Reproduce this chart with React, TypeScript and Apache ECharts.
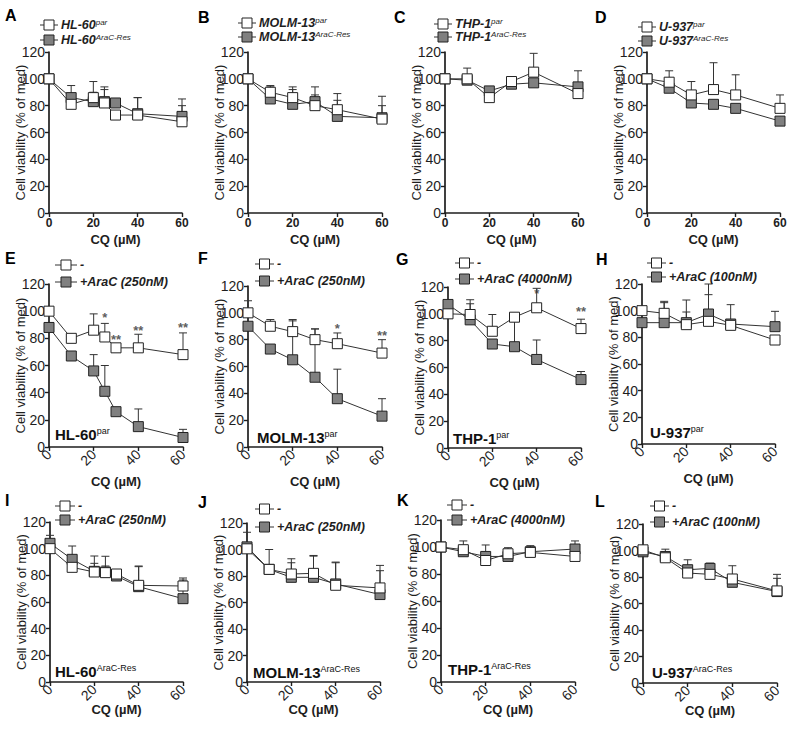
import React, { useEffect, useRef } from 'react';
import * as echarts from 'echarts';

const FONT = '"Liberation Sans", Arial, Helvetica, sans-serif';
const INK = '#1e1e1e';

// ---------- x values (CQ, µM) ----------
const cq7 = [0, 10, 20, 25, 30, 40, 60];
const cq6 = [0, 10, 20, 30, 40, 60];

// ---------- Row 1: parental vs AraC-resistant ----------
const aOpen = [100, 81, 86, 82, 73, 73, 68];
const aOpenSd = [0, 0, 12, 12, 0, 13, 17];
const aGray = [100, 86, 83, 83, 82, 74, 72];
const aGraySd = [0, 9, 7, 9, 0, 12, 8];

const bOpen = [100, 90, 86, 80, 77, 70];
const bOpenSd = [0, 5, 8, 14, 12, 17];
const bGray = [100, 85, 81, 83, 72, 71];
const bGraySd = [0, 9, 11, 5, 12, 9];

const cOpen = [100, 100, 86, 98, 105, 89];
const cOpenSd = [0, 8, 0, 0, 14, 0];
const cGray = [100, 99, 91, 96, 97, 94];
const cGraySd = [0, 0, 2, 0, 0, 12];

const dOpen = [100, 97.5, 88, 92, 88, 78];
const dOpenSd = [0, 8.5, 10, 20, 15, 10];
const dGray = [100, 93, 82, 81, 78, 68.5];
const dGraySd = [0, 0, 0, 0, 0, 0];

// ---------- Row 2: parental cells, CQ ± AraC ----------
const eOpen = [100, 80, 86, 81, 73, 73, 68];
const eOpenSd = [0, 0, 12, 10, 0, 10, 16];
const eGray = [88, 67, 56, 41, 26, 15, 7];
const eGraySd = [0, 0, 12, 19, 0, 13, 6];
const eStars = [[25, 95, '*'], [30, 79, '**'], [40, 86, '**'], [60, 88, '**']];

const fOpen = [100, 90, 86, 80, 77, 70];
const fOpenSd = [9, 5, 9, 8, 8, 10];
const fGray = [90, 73, 65, 52, 36, 23];
const fGraySd = [0, 0, 29, 36, 22, 13];
const fStars = [[40, 88, '*'], [60, 83, '**']];

const gOpen = [100, 99.5, 87, 97.5, 104.5, 89];
const gOpenSd = [0, 11, 12.5, 0, 14.5, 7];
const gGray = [107, 95.5, 77.5, 75.5, 66, 51];
const gGraySd = [0, 12, 0, 22, 14.5, 6];
const gStars = [[40, 115.5, '*'], [60, 102, '**']];

const hOpen = [100, 98, 89.5, 92, 89, 78];
const hOpenSd = [0, 9, 18.5, 20, 15.5, 0];
const hGray = [91, 91, 91, 97.5, 90, 88];
const hGraySd = [0, 15, 8, 22.5, 0, 11.5];

// ---------- Row 3: AraC-resistant cells, CQ ± AraC ----------
const iOpen = [100, 86, 82.5, 82, 81, 72.5, 72];
const iOpenSd = [10, 0, 12, 12.3, 0, 14.5, 6];
const iGray = [104, 92, 83, 82.5, 79.5, 71.5, 62.5];
const iGraySd = [0, 10, 6, 4.5, 0, 15, 14];

const jOpen = [100.5, 85, 81.5, 82, 73, 71];
const jOpenSd = [12.5, 15, 11.5, 13.5, 17.5, 17];
const jGray = [102, 85, 79, 79, 74, 66];
const jGraySd = [0, 0, 11, 16, 16, 18];

const kOpen = [100, 98, 90, 95, 96, 93];
const kOpenSd = [0, 6.5, 11.5, 4.5, 5, 0];
const kGray = [100, 96.5, 93, 93, 96.5, 98.5];
const kGraySd = [0, 0, 0, 0, 0, 6];

const lOpen = [100.5, 94.5, 83, 82, 78.5, 69.5];
const lOpenSd = [0, 6.5, 10, 8.5, 10, 12.5];
const lGray = [99, 95.5, 85.5, 86.5, 76, 69];
const lGraySd = [0, 2.5, 0, 2, 0, 10];

// ---------- tick labels / texts ----------
const yTicks = { min: 0, max: 120, interval: 20 };
const xTicks = { min: 0, max: 60, interval: 20 };
const yName = 'Cell viability (% of med)';
const xName = 'CQ (µM)';

const GRAY_FILL = '#808080';

type Panel = {
  letter: string;
  letterPos: [number, number];
  grid: [number, number, number, number];
  xs: number[];
  open: number[]; openSd: number[];
  gray: number[]; graySd: number[];
  openName: string; grayName: string;
  legend: [number, number, number, number]; // iconLeft, row1 centre y, iconWidth, row spacing
  rotate: boolean;
  xNameGap: number;
  label?: [string, string, number, number];
  stars?: (number | string)[][];
};

const panels: Panel[] = [
  { letter: 'A', letterPos: [5, 15], grid: [49, 52, 133, 161], xs: cq7, open: aOpen, openSd: aOpenSd, gray: aGray, graySd: aGraySd, openName: 'HL-60^par', grayName: 'HL-60^AraC-Res', legend: [40, 25, 18, 15], rotate: false, xNameGap: 20 },
  { letter: 'B', letterPos: [198, 17], grid: [248, 52, 134, 161], xs: cq6, open: bOpen, openSd: bOpenSd, gray: bGray, graySd: bGraySd, openName: 'MOLM-13^par', grayName: 'MOLM-13^AraC-Res', legend: [238, 23, 18, 14], rotate: false, xNameGap: 20 },
  { letter: 'C', letterPos: [394, 17], grid: [445, 52, 133, 161], xs: cq6, open: cOpen, openSd: cOpenSd, gray: cGray, graySd: cGraySd, openName: 'THP-1^par', grayName: 'THP-1^AraC-Res', legend: [434, 24, 18, 13], rotate: false, xNameGap: 20 },
  { letter: 'D', letterPos: [595, 17], grid: [647, 52, 133, 161], xs: cq6, open: dOpen, openSd: dOpenSd, gray: dGray, graySd: dGraySd, openName: 'U-937^par', grayName: 'U-937^AraC-Res', legend: [638, 27, 18, 14], rotate: false, xNameGap: 20 },

  { letter: 'E', letterPos: [5, 258], grid: [49, 284, 134, 163], xs: cq7, open: eOpen, openSd: eOpenSd, gray: eGray, graySd: eGraySd, openName: '-', grayName: '+AraC (250nM)', legend: [55, 265, 22, 17], rotate: true, xNameGap: 28, label: ['HL-60', 'par', 55, 434], stars: eStars },
  { letter: 'F', letterPos: [198, 258], grid: [248, 286, 134, 161], xs: cq6, open: fOpen, openSd: fOpenSd, gray: fGray, graySd: fGraySd, openName: '-', grayName: '+AraC (250nM)', legend: [255, 264, 19, 17], rotate: true, xNameGap: 28, label: ['MOLM-13', 'par', 257, 437], stars: fStars },
  { letter: 'G', letterPos: [396, 259], grid: [448, 287, 133, 161], xs: cq6, open: gOpen, openSd: gOpenSd, gray: gGray, graySd: gGraySd, openName: '-', grayName: '+AraC (4000nM)', legend: [455, 263, 19, 16], rotate: true, xNameGap: 28, label: ['THP-1', 'par', 453, 438], stars: gStars },
  { letter: 'H', letterPos: [596, 259], grid: [642, 284, 133, 160], xs: cq6, open: hOpen, openSd: hOpenSd, gray: hGray, graySd: hGraySd, openName: '-', grayName: '+AraC (100nM)', legend: [647, 263, 19, 14], rotate: true, xNameGap: 28, label: ['U-937', 'par', 650, 432] },

  { letter: 'I', letterPos: [5, 500], grid: [50, 522, 133, 160], xs: cq7, open: iOpen, openSd: iOpenSd, gray: iGray, graySd: iGraySd, openName: '-', grayName: '+AraC (250nM)', legend: [55, 506, 20, 14], rotate: true, xNameGap: 21, label: ['HL-60', 'AraC-Res', 55, 671] },
  { letter: 'J', letterPos: [198, 502], grid: [247, 523, 133, 159], xs: cq6, open: jOpen, openSd: jOpenSd, gray: jGray, graySd: jGraySd, openName: '-', grayName: '+AraC (250nM)', legend: [255, 509, 19, 18], rotate: true, xNameGap: 21, label: ['MOLM-13', 'AraC-Res', 253, 672] },
  { letter: 'K', letterPos: [397, 500], grid: [441, 520, 134, 162], xs: cq6, open: kOpen, openSd: kOpenSd, gray: kGray, graySd: kGraySd, openName: '-', grayName: '+AraC (4000nM)', legend: [447, 505, 20, 15], rotate: true, xNameGap: 21, label: ['THP-1', 'AraC-Res', 448, 669] },
  { letter: 'L', letterPos: [595, 501], grid: [643, 524, 134, 159], xs: cq6, open: lOpen, openSd: lOpenSd, gray: lGray, graySd: lGraySd, openName: '-', grayName: '+AraC (100nM)', legend: [650, 506, 19, 16], rotate: true, xNameGap: 21, label: ['U-937', 'AraC-Res', 652, 672] },
];

function richName(name: string) {
  const [main, sup] = name.split('^');
  return sup ? `{m|${main}}{s|${sup}}` : `{m|${main}}`;
}

function errorSeries(idx: number, xs: number[], mean: number[], sd: number[], key: string) {
  const data = xs.map((x, i) => [x, mean[i], mean[i] + sd[i]]).filter((d, i) => sd[i] > 0);
  return {
    type: 'custom',
    name: `err-${key}-${idx}`,
    xAxisIndex: idx,
    yAxisIndex: idx,
    encode: { x: 0, y: [1, 2] },
    silent: true,
    z: 2,
    clip: false,
    data,
    renderItem: (params: any, api: any) => {
      const x = api.value(0);
      const p0 = api.coord([x, api.value(1)]);
      const p1 = api.coord([x, api.value(2)]);
      const st = { stroke: '#333', lineWidth: 1 };
      return {
        type: 'group',
        children: [
          { type: 'line', shape: { x1: p0[0], y1: p0[1], x2: p1[0], y2: p1[1] }, style: st },
          { type: 'line', shape: { x1: p1[0] - 4, y1: p1[1], x2: p1[0] + 4, y2: p1[1] }, style: st },
        ],
      };
    },
  };
}

function legendRow(x: number, y: number, w: number, fill: string, name: string) {
  const s = 10;
  return [
    { type: 'line', shape: { x1: x, y1: y, x2: x + w, y2: y }, style: { stroke: '#333', lineWidth: 1 }, z: 10 },
    { type: 'rect', shape: { x: x + w / 2 - s / 2, y: y - s / 2, width: s, height: s }, style: { fill, stroke: '#222', lineWidth: 1 }, z: 11 },
    {
      type: 'text', x: x + w + 3, y, z: 11,
      style: {
        text: richName(name), verticalAlign: 'middle', align: 'left',
        rich: {
          m: { fontSize: 12.5, fontWeight: 'bold', fontStyle: 'italic', fontFamily: FONT, fill: INK, verticalAlign: 'bottom' },
          s: { fontSize: 8, fontStyle: 'italic', fontFamily: FONT, fill: INK, verticalAlign: 'top' },
        },
      },
    },
  ];
}

function buildOption() {
  const grid: any[] = [];
  const xAxis: any[] = [];
  const yAxis: any[] = [];
  const series: any[] = [];
  const graphic: any[] = [];

  panels.forEach((p, idx) => {
    const [l, t, w, h] = p.grid;
    grid.push({ left: l, top: t, width: w, height: h, containLabel: false, outerBoundsMode: 'none' });
    const axisLine = { show: true, onZero: false, lineStyle: { color: INK, width: 1.7 } };
    const axisTick = { show: true, inside: false, length: 4, lineStyle: { color: INK, width: 1.4 } };
    xAxis.push({
      type: 'value', gridIndex: idx, ...xTicks,
      axisLine, axisTick, splitLine: { show: false },
      axisLabel: p.rotate
        ? { rotate: 45, fontSize: 14, color: INK, fontFamily: FONT, margin: 5 }
        : { rotate: 0, fontSize: 12, color: INK, fontFamily: FONT, fontWeight: 'bold', margin: 4 },
      name: xName, nameLocation: 'middle', nameGap: p.xNameGap, nameMoveOverlap: false,
      nameTextStyle: { fontSize: 13, fontWeight: 'bold', color: INK, fontFamily: FONT },
    });
    yAxis.push({
      type: 'value', gridIndex: idx, ...yTicks,
      axisLine, axisTick, splitLine: { show: false },
      axisLabel: { fontSize: 14, color: INK, fontFamily: FONT, margin: 4 },
      name: yName, nameLocation: 'middle', nameGap: 22, nameMoveOverlap: false,
      nameTextStyle: { fontSize: 13, color: INK, fontFamily: FONT },
    });

    const grayPts = p.xs.map((x, i) => [x, p.gray[i]]);
    const openPts = p.xs.map((x, i) => [x, p.open[i]]);

    series.push(errorSeries(idx, p.xs, p.gray, p.graySd, 'gray'));
    series.push({
      type: 'line', name: p.grayName, xAxisIndex: idx, yAxisIndex: idx, data: grayPts,
      symbol: 'rect', symbolSize: 10, showAllSymbol: true, z: 3, clip: false,
      lineStyle: { color: '#333', width: 1 },
      itemStyle: { color: GRAY_FILL, borderColor: '#222', borderWidth: 1 },
      emphasis: { disabled: true },
    });
    series.push(errorSeries(idx, p.xs, p.open, p.openSd, 'open'));
    series.push({
      type: 'line', name: p.openName, xAxisIndex: idx, yAxisIndex: idx, data: openPts,
      symbol: 'rect', symbolSize: 10, showAllSymbol: true, z: 5, clip: false,
      lineStyle: { color: '#333', width: 1 },
      itemStyle: { color: '#ffffff', borderColor: '#222', borderWidth: 1 },
      emphasis: { disabled: true },
    });
    if (p.stars) {
      series.push({
        type: 'scatter', name: `stars-${idx}`, xAxisIndex: idx, yAxisIndex: idx, clip: false,
        symbolSize: 1, itemStyle: { color: 'rgba(0,0,0,0)' }, z: 6,
        data: p.stars.map((s) => ({ value: [s[0], s[1]], name: s[2] })),
        label: { show: true, position: 'inside', formatter: '{b}', fontSize: 13, fontWeight: 'bold', color: '#333', fontFamily: FONT },
      });
    }

    const [lx, ly, lw, lg] = p.legend;
    graphic.push(...legendRow(lx, ly, lw, '#ffffff', p.openName));
    graphic.push(...legendRow(lx, ly + lg, lw, GRAY_FILL, p.grayName));

    graphic.push({
      type: 'text', x: p.letterPos[0], y: p.letterPos[1],
      style: { text: p.letter, font: `bold 16px ${FONT}`, fill: '#000', verticalAlign: 'middle' },
    });
    if (p.label) {
      const [main, sup, tx, ty] = p.label;
      graphic.push({
        type: 'text', x: tx, y: ty,
        style: {
          text: `{m|${main}}{s|${sup}}`, verticalAlign: 'middle',
          rich: {
            m: { fontSize: 15, fontWeight: 'bold', fontFamily: FONT, fill: '#111', verticalAlign: 'bottom' },
            s: { fontSize: 9, fontFamily: FONT, fill: '#111', verticalAlign: 'top' },
          },
        },
      });
    }
  });

  return {
    animation: false,
    backgroundColor: '#ffffff',
    textStyle: { fontFamily: FONT },
    grid, xAxis, yAxis, series, graphic,
    tooltip: { show: false },
  };
}

export default function App() {
  const ref = useRef<HTMLDivElement>(null);
  useEffect(() => {
    if (!ref.current) return;
    const chart = echarts.init(ref.current, undefined, { renderer: 'svg' });
    chart.setOption(buildOption() as any);
    return () => chart.dispose();
  }, []);
  return <div ref={ref} style={{ position: 'absolute', left: 0, top: 0, width: 793, height: 729 }} />;
}
